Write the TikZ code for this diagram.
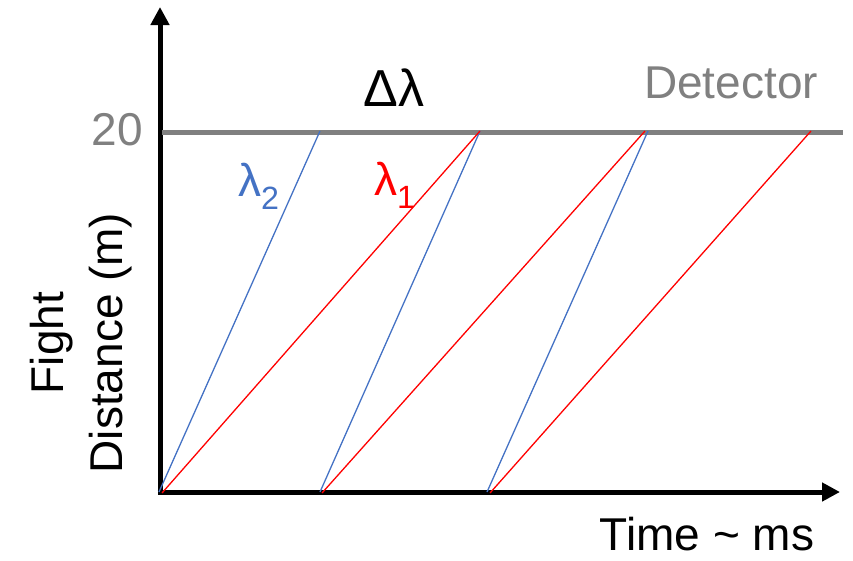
\documentclass[tikz,border=0pt]{standalone}
\usepackage{fontspec}
\setmainfont{Liberation Sans}
\usepackage{tikz}
\usetikzlibrary{arrows.meta}
\usepackage{xcolor}
\definecolor{axgray}{HTML}{808080}
\definecolor{wlblue}{HTML}{4472C4}
\definecolor{wlred}{HTML}{FF0000}
\tikzset{
  axis/.style={line width=5pt, draw=black, -{Triangle[width=18pt,length=18pt]}},
  detline/.style={line width=5pt, draw=axgray},
  blueray/.style={line width=1.3pt, draw=wlblue},
  redray/.style={line width=1.3pt, draw=wlred},
  lbl/.style={font=\fontsize{46}{50}\selectfont, inner sep=0pt, anchor=base},
}

\begin{document}
\begin{tikzpicture}[x=1pt, y=-1pt]
  \useasboundingbox (0,0) rectangle (853,560);
  % axes
  \coordinate (O) at (160,492);
  \draw[axis] (160,494.5) -- (160,7);
  \draw[axis] (157.5,492) -- (840,492);
  % detector at 20 m
  \draw[detline] (162,132) -- (843,132);
  \node[lbl, anchor=base east, text=axgray] (d20) at (143,145) {20};
  \node[lbl, text=axgray] (det) at (731,98) {Detector};
  \node[lbl, font=\fontsize{52}{56}\selectfont] (dl) at (394,106) {Δλ};
  % pulses: lambda2 (fast, blue) and lambda1 (slow, red)
  \foreach \s/\e in {159/320, 320/480, 487/648}
    \draw[blueray] (\s,492) -- (\e,131);
  \foreach \s/\e in {162/480, 322/645, 490/811}
    \draw[redray] (\s,493) -- (\e,131);
  \node[lbl, anchor=base west, text=wlblue] (l2) at (238,196) {λ\textsubscript{2}};
  \node[lbl, anchor=base west, text=wlred] (l1) at (374,195) {λ\textsubscript{1}};
  % axis titles
  \node[lbl, text depth=0pt] (tx) at (707,550) {Time \textasciitilde{} ms};
  \node[lbl, rotate=90] (ty1) at (63,343) {Fight};
  \node[lbl, rotate=90] (ty2) at (122,343) {Distance (m)};
\end{tikzpicture}
\end{document}
